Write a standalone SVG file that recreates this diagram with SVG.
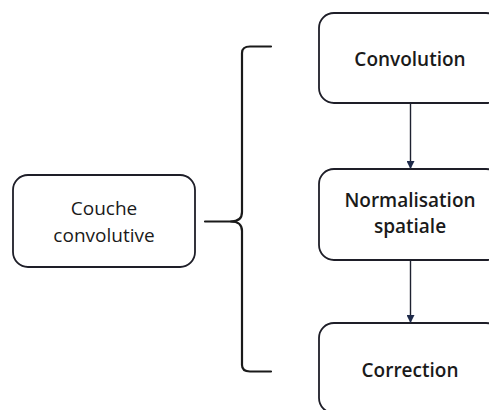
<svg xmlns="http://www.w3.org/2000/svg" width="489" height="410" viewBox="0 0 489 410">
<defs>
<style>
.box{fill:#fff;stroke:#1e1e28;stroke-width:1.8}
.t{font-family:"Open Sans","Liberation Sans",sans-serif;font-size:19px;fill:#1a1a1a;text-anchor:middle;font-weight:500}
.b{font-weight:600}
.ln{fill:none;stroke:#1e2230;stroke-width:1.4}
.br{fill:none;stroke:#1a1a1a;stroke-width:2.2;stroke-linecap:round;stroke-linejoin:round}
</style>
<marker id="ah" viewBox="0 0 10 10" refX="10" refY="5" markerWidth="8" markerHeight="8" markerUnits="userSpaceOnUse" orient="auto">
<path d="M0,0 L10,5 L0,10 Z" fill="#1e2a4a"/>
</marker>
</defs>
<rect width="489" height="410" fill="#fff"/>
<g id="couche">
<rect class="box" x="13" y="175" width="182" height="92" rx="15"/>
<text class="t" x="104" y="215">Couche</text>
<text class="t" x="104" y="242">convolutive</text>
</g>
<g id="convolution">
<rect class="box" x="319" y="13" width="182" height="90" rx="15"/>
<text class="t b" x="410" y="66">Convolution</text>
</g>
<g id="normalisation">
<rect class="box" x="319" y="169" width="182" height="91" rx="15"/>
<text class="t b" x="410" y="207">Normalisation</text>
<text class="t b" x="410" y="233">spatiale</text>
</g>
<g id="correction">
<rect class="box" x="319" y="323" width="182" height="90" rx="15"/>
<text class="t b" x="410" y="377">Correction</text>
</g>
<g id="connectors">
<line class="ln" x1="410.5" y1="103" x2="410.5" y2="169" marker-end="url(#ah)"/>
<line class="ln" x1="410.5" y1="260" x2="410.5" y2="323" marker-end="url(#ah)"/>
<path class="br" d="M205,221.5 H231 Q242,221.5 242,212 V53 Q242,46.5 250,46.5 H271"/>
<path class="br" d="M231,221.5 Q242,221.5 242,231 V365 Q242,371.5 250,371.5 H271"/>
</g>
</svg>
